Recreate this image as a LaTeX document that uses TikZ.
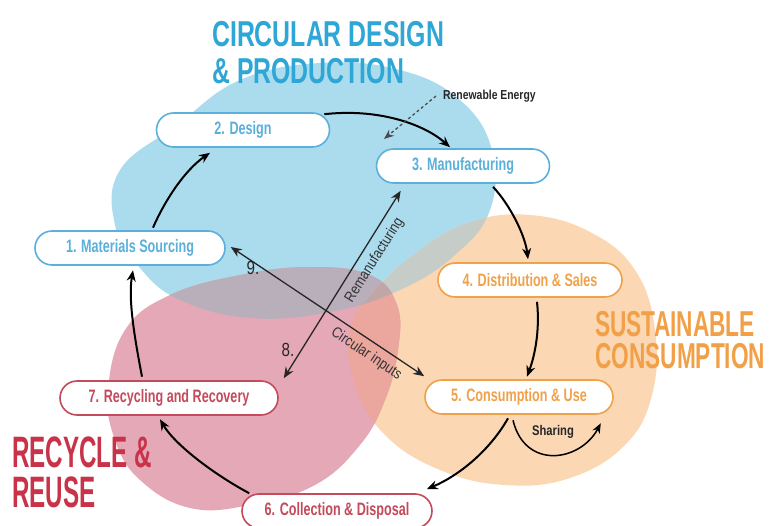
\documentclass[tikz,border=0pt]{standalone}
\usepackage{fontspec}
\setmainfont{Liberation Sans}
\newfontfamily\nodefont[FakeStretch=0.70]{Liberation Sans}
\newfontfamily\bluetitlefont[FakeStretch=0.69]{Liberation Sans}
\newfontfamily\orangetitlefont[FakeStretch=0.63]{Liberation Sans}
\newfontfamily\redtitlefont[FakeStretch=0.55]{Liberation Sans}
\newfontfamily\smallfont[FakeStretch=0.80]{Liberation Sans}
\newfontfamily\slopefont[FakeStretch=0.85]{Liberation Sans}
\usetikzlibrary{arrows.meta,calc}
\definecolor{bblue}{HTML}{ABDCEE}
\definecolor{borange}{HTML}{FBD7B3}
\definecolor{bred}{HTML}{E5A8B6}
\definecolor{bbr}{HTML}{B9AFBA}
\definecolor{bbo}{HTML}{C6CDC8}
\definecolor{bro}{HTML}{EBA69E}
\definecolor{ball}{HTML}{BFA7A8}
\definecolor{lblue}{HTML}{5AB0DA}
\definecolor{tblue}{HTML}{2EA6D6}
\definecolor{lorange}{HTML}{F0A24A}
\definecolor{torange}{HTML}{F2A048}
\definecolor{lred}{HTML}{C34B5B}
\definecolor{tred}{HTML}{C8334A}
\def\bluepath{plot[smooth cycle, tension=0.7] coordinates {(177,125) (240,80) (320,63) (400,70) (460,100) (492,150) (490,210) (455,255) (400,290) (330,312) (250,318) (180,300) (140,268) (115,225) (120,170)}}
\def\orangepath{plot[smooth cycle, tension=0.7] coordinates {(350,330) (375,290) (420,250) (470,222) (530,215) (590,232) (635,270) (655,330) (652,395) (625,445) (570,478) (505,485) (440,470) (385,435) (355,385)}}
\def\redpath{plot[smooth cycle, tension=0.7] coordinates {(108,390) (125,330) (170,295) (240,275) (310,267) (370,275) (397,305) (398,350) (385,400) (360,445) (315,485) (250,505) (190,508) (140,480) (115,440)}}
\tikzset{
  stage/.style={draw, line width=1.6pt, fill=white, rounded corners=17pt,
    minimum height=34pt, inner sep=0pt, font=\nodefont\bfseries\fontsize{18}{18}\selectfont},
  bstage/.style={stage, draw=lblue, text=lblue},
  ostage/.style={stage, draw=lorange, text=lorange},
  rstage/.style={stage, draw=lred, text=lred},
  flow/.style={line width=2pt, -{Stealth[length=11pt,width=9pt]}},
  cross/.style={line width=1.3pt, draw=black!85, {Stealth[length=11pt,width=9pt]}-{Stealth[length=11pt,width=9pt]}},
  ttl/.style={anchor=base west, inner sep=0pt},
  lbl/.style={inner sep=1pt, font=\slopefont\fontsize{15}{15}\selectfont, text=black!80}
}
\begin{document}
\begin{tikzpicture}[x=1pt,y=-1pt]
\clip (0,0) rectangle (773,526);
% blobs
\fill[bblue] \bluepath;
\fill[borange] \orangepath;
\fill[bred] \redpath;
\begin{scope}
  \clip \bluepath;
  \fill[bbr] \redpath;
  \fill[bbo] \orangepath;
\end{scope}
\begin{scope}
  \clip \redpath;
  \fill[bro] \orangepath;
  \clip \orangepath;
  \fill[ball] \bluepath;
\end{scope}
% titles
\node[ttl, font=\bluetitlefont\bfseries\fontsize{36}{36}\selectfont, text=tblue] (t1) at (212,47) {CIRCULAR DESIGN};
\node[ttl, font=\bluetitlefont\bfseries\fontsize{36}{36}\selectfont, text=tblue] (t2) at (212,84) {\& PRODUCTION};
\node[ttl, font=\orangetitlefont\bfseries\fontsize{36}{36}\selectfont, text=torange] (t3) at (595,337) {SUSTAINABLE};
\node[ttl, font=\orangetitlefont\bfseries\fontsize{36}{36}\selectfont, text=torange] (t4) at (595,368) {CONSUMPTION};
\node[ttl, font=\redtitlefont\bfseries\fontsize{44}{44}\selectfont, text=tred] (t5) at (12,467) {RECYCLE \&};
\node[ttl, font=\redtitlefont\bfseries\fontsize{44}{44}\selectfont, text=tred] (t6) at (12,507) {REUSE};
% stages
\node[bstage, minimum width=173pt] (design) at (243,130) {2. Design};
\node[bstage, minimum width=173pt] (manu) at (463,166) {3. Manufacturing};
\node[bstage, minimum width=190pt] (mat) at (130,248) {1. Materials Sourcing};
\node[ostage, minimum width=184pt] (dist) at (530,280) {4. Distribution \& Sales};
\node[ostage, minimum width=188pt] (cons) at (519,397) {5. Consumption \& Use};
\node[rstage, minimum width=190pt] (coll) at (337,511) {6. Collection \& Disposal};
\node[rstage, minimum width=218pt] (rec) at (169,398) {7. Recycling and Recovery};
% cycle arrows
\draw[flow] ($(design.north east)+(-6,2)$) .. controls (380,108) and (425,125) .. ($(manu.north)+(-13,-1)$);
\draw[flow] ($(manu.south)+(30,3)$) .. controls (510,205) and (525,235) .. ($(dist.north)+(-2,-3)$);
\draw[flow] ($(dist.south)+(7,4)$) .. controls (540,330) and (535,355) .. ($(cons.north)+(8,-2.5)$);
\draw[flow] ($(cons.south)+(-11,3.5)$) .. controls (490,450) and (460,475) .. ($(coll.north east)+(-6,-4)$);
\draw[flow] ($(coll.north west)+(8,0)$) .. controls (215,475) and (175,445) .. ($(rec.south)+(-9,3.5)$);
\draw[flow] ($(rec.north)+(-27,-3.5)$) .. controls (135,340) and (128,300) .. ($(mat.south)+(3,4.5)$);
\draw[flow] ($(mat.north)+(23,-2.5)$) .. controls (165,200) and (185,170) .. ($(design.south)+(-33,5)$);
% sharing
\draw[line width=1.5pt, -{Stealth[length=10pt,width=8pt]}] ($(cons.south)+(-6,5.5)$) .. controls (525,470) and (580,462) .. ($(cons.south east)+(-13,8.5)$);
\node[font=\smallfont\bfseries\fontsize{14}{14}\selectfont, inner sep=0pt, text=black!85] (share) at (553,432) {Sharing};
% renewable energy
\coordinate (reS) at (436,96);
\coordinate (reE) at (384,139);
\draw[line width=1.3pt, draw=black!70, dash pattern=on 3pt off 2.5pt, -{Stealth[length=10pt,width=8pt]}] (reS) -- (reE);
\node[inner sep=0pt, anchor=west, font=\smallfont\bfseries\fontsize{13}{13}\selectfont, text=black!85] (ren) at (443,96) {Renewable Energy};
% cross flows
\draw[cross] ($(manu.south west)+(25,7)$) -- node[sloped, below=6pt, pos=0.33, lbl] (reman) {Remanufacturing} ($(rec.north east)+(5,-2)$);
\draw[cross] ($(mat.east)+(5,-1)$) -- node[sloped, below=5pt, pos=0.74, lbl] (circ) {Circular inputs} ($(cons.north west)+(0,-3)$);
\node[font=\smallfont\fontsize{19}{19}\selectfont, text=black!85, inner sep=0pt] (n9) at (253,268) {9.};
\node[font=\smallfont\fontsize{19}{19}\selectfont, text=black!85, inner sep=0pt] (n8) at (288,350) {8.};
\end{tikzpicture}
\end{document}
